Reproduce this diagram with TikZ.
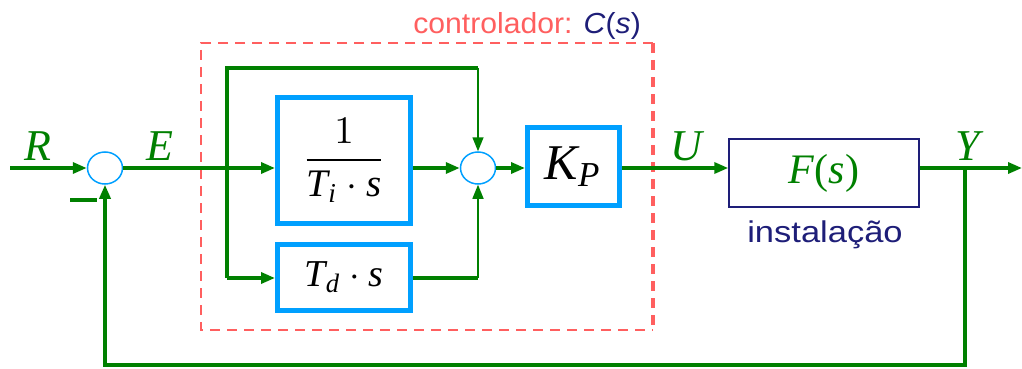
\documentclass[tikz,border=0pt]{standalone}
\usepackage{fontspec}
\setmainfont{Liberation Serif}
\newfontfamily\arialf{Liberation Sans}
\usetikzlibrary{arrows.meta,shapes.geometric}
\definecolor{gr}{RGB}{0,128,0}
\definecolor{bl}{RGB}{0,160,255}
\definecolor{rd}{RGB}{255,95,95}
\definecolor{nv}{RGB}{30,30,120}
\begin{document}
\begin{tikzpicture}[x=1pt,y=-1pt,
  sig/.style={draw=gr,line width=3.3pt},
  sigthick/.style={draw=gr,line width=4pt},
  sigthin/.style={draw=gr,line width=1.5pt},
  arr/.style={-{Triangle[length=14pt,width=11pt]}},
  blk/.style={draw=bl,line width=5pt,fill=white,inner sep=0pt},
  sumn/.style={ellipse,draw=bl,line width=1.5pt,fill=white,minimum width=35pt,minimum height=32pt,inner sep=0pt},
  lbl/.style={text=gr,font=\fontsize{44}{44}\selectfont\itshape,inner sep=0pt}]
\useasboundingbox (0,0) rectangle (1022,369);
% dashed controller box
\draw[rd,line width=2pt,dash pattern=on 10pt off 7pt] (653,43) -- (201,43) -- (201,330) -- (653,330);
\draw[rd,line width=3.5pt,dash pattern=on 10pt off 7pt] (653,43) -- (653,330);
\node[anchor=base east,inner sep=0pt,font=\arialf\fontsize{29}{29}\selectfont] (ctl) at (641,34)
  {\scalebox{1.04}[1]{\textcolor{rd}{controlador:} \textcolor{nv}{\textit{C}(\textit{s})}}};
% nodes
\node[sumn] (s1) at (105,168) {};
\node[sumn] (s2) at (478,168) {};
\node[blk,minimum width=133pt,minimum height=126pt] (ti) at (344,160.5)
  {\scalebox{3.9}{$\displaystyle\frac{1}{\mathit{T}_{\mathit{i}}\cdot\mathit{s}}$}};
\node[blk,minimum width=133pt,minimum height=66pt] (td) at (344,277.5)
  {\scalebox{3.8}{$\mathit{T}_{\mathit{d}}\cdot\mathit{s}$}};
\node[blk,minimum width=92pt,minimum height=78pt] (kp) at (573.5,166.5)
  {\scalebox{5}{$\mathit{K}_{\mathit{P}}$}};
\node[draw=nv,line width=1.5pt,minimum width=190pt,minimum height=68pt,inner sep=0pt] (f) at (824,173)
  {\fontsize{42}{42}\selectfont\textcolor{gr}{\textit{F}(\textit{s})}};
\node[text=nv,anchor=base,inner sep=0pt,font=\arialf\fontsize{30}{30}\selectfont] (inst) at (825,242)
  {\scalebox{1.15}[1]{instalação}};
% labels
\node[lbl] (R) at (38,146) {R};
\node[lbl] (E) at (160,146) {E};
\node[lbl] (U) at (686,146) {U};
\node[lbl] (Y) at (968,146) {Y};
% coordinates
\coordinate (rin) at (10,168);
\coordinate (br) at (227,168);
\coordinate (tl) at (227,68);
\coordinate (tr) at (478,68);
\coordinate (bl) at (227,278);
\coordinate (tdr) at (478,278);
\coordinate (yb) at (965,168);
\coordinate (yout) at (1022,168);
\coordinate (fbr) at (965,365);
\coordinate (fbl) at (105,365);
% connectors
\draw[sig,arr] (rin) -- (s1.west);
\draw[sig] (s1.east) -- (br);
\draw[sig,arr] (br) -- (ti.west |- br);
\draw[sigthick] (bl) -- (br) -- (tl) -- (tr);
\draw[sigthin,arr] (tr) -- (s2.north);
\draw[sig,arr] (bl) -- (td.west |- bl);
\draw[sigthick] (td.east |- tdr) -- (tdr);
\draw[sigthin,arr] (tdr) -- (s2.south);
\draw[sig,arr] (ti.east |- s2) -- (s2.west);
\draw[sig,arr] (s2.east) -- (kp.west |- s2);
\draw[sig,arr] (kp.east |- s2) -- (f.west |- s2);
\draw[sig] (f.east |- s2) -- (yb);
\draw[sig,arr] (yb) -- (yout);
\draw[sig,arr] (yb) -- (fbr) -- (fbl) -- (s1.south);
% minus sign
\draw[draw=gr,line width=4pt] (70,200) -- (97,200);
\end{tikzpicture}
\end{document}
